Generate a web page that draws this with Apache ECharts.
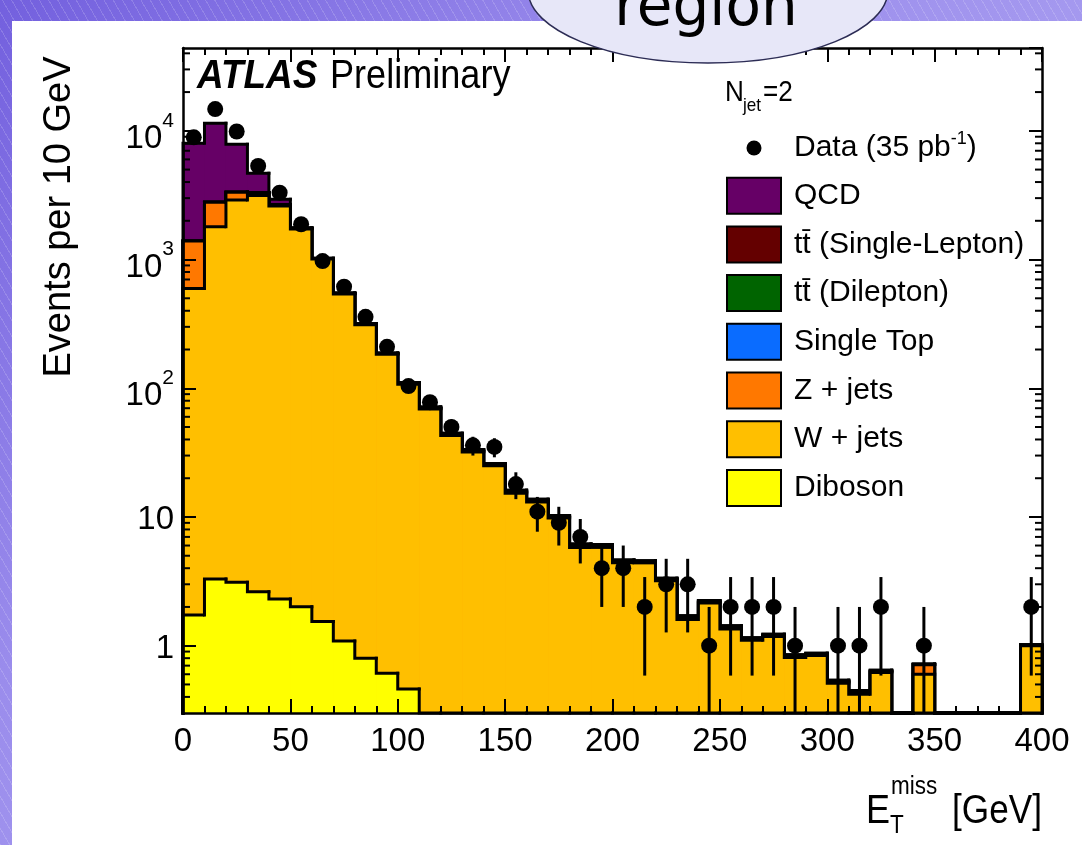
<!DOCTYPE html>
<html>
<head>
<meta charset="utf-8">
<script src="https://cdn.jsdelivr.net/npm/echarts@6/dist/echarts.min.js"></script>
<style>
html, body { margin: 0; padding: 0; }
body {
  width: 1082px; height: 845px; overflow: hidden;
  background:
    repeating-linear-gradient(60deg, rgba(255,255,255,0.16) 0px, rgba(255,255,255,0.16) 1px, rgba(255,255,255,0) 1px, rgba(255,255,255,0) 8px),
    linear-gradient(135deg, #7360de 0%, #9a8cec 35%, #b9b2f5 100%);
}
#chart { width: 1082px; height: 845px; }
</style>
</head>
<body>
<div id="chart"></div>
<script>
// E_T^miss bins (GeV), 10 GeV wide
const binEdges = [0,10,20,30,40,50,60,70,80,90,100,110,120,130,140,150,160,170,180,190,200,
  210,220,230,240,250,260,270,280,290,300,310,320,330,340,350,360,370,380,390,400];

// observed events per bin
const dataCounts = [8900,14750,9880,5340,3310,1880,973,615,359,210,104,78,50,36,35,18,11,9,7,4,
  4,2,3,3,1,2,2,2,1,0,1,1,2,0,1,0,0,0,0,2];

// MC backgrounds (stacked from bottom to top)
const diboson = [1.73,3.30,3.11,2.63,2.31,2.01,1.54,1.09,0.80,0.61,0.46,0,0,0,0,0,0,0,0,0,
  0,0,0,0,0,0,0,0,0,0,0,0,0,0,0,0,0,0,0,0];
const wJets = [595,1797,2897,3137,2598,1728,1008,539,311,183,107,69,43,32,25,15.3,13.1,9.8,5.8,5.8,
  4.4,4.4,3.2,1.6,2.15,1.35,1.1,1.18,0.81,0.84,0.51,0.42,0.62,0,0.60,0,0,0,0,1.0];
const zJets = [796,990,435,170,60,20,8,4,2.2,1.3,0.8,0.5,0.35,0.25,0.2,0.15,0.1,0.08,0.06,0.05,
  0.04,0.03,0.03,0.02,0.02,0.02,0.01,0.01,0.01,0.01,0.01,0.01,0.01,0,0.11,0,0,0,0,0.01];
const singleTop = [0.6,1.3,1.8,2.0,2.0,1.8,1.5,1.2,0.95,0.75,0.58,0.45,0.35,0.27,0.21,0.16,0.12,0.1,0.08,0.06,
  0.05,0.04,0.03,0.02,0.02,0.015,0.012,0.01,0.008,0.006,0.005,0.004,0.004,0,0.003,0,0,0,0,0.002];
const ttDilep = [0.2,0.4,0.6,0.8,0.9,0.9,0.8,0.7,0.6,0.5,0.4,0.32,0.26,0.2,0.16,0.13,0.1,0.08,0.06,0.05,
  0.04,0.03,0.025,0.02,0.015,0.012,0.01,0.008,0.006,0.005,0.004,0.004,0.003,0,0.002,0,0,0,0,0.002];
const ttSingle = [1.2,2.6,3.8,4.4,4.6,4.2,3.6,3.0,2.4,1.9,1.5,1.1,0.85,0.65,0.5,0.38,0.3,0.23,0.18,0.14,
  0.11,0.08,0.06,0.05,0.04,0.03,0.02,0.02,0.015,0.012,0.01,0.01,0.008,0,0.006,0,0,0,0,0.004];
const qcd = [6600,8680,4540,1370,270,0,0,0,0,0,0,0,0,0,0,0,0,0,0,0,
  0,0,0,0,0,0,0,0,0,0,0,0,0,0,0,0,0,0,0,0];

const layers = [
  { name: 'Diboson', values: diboson, color: '#FFFF00' },
  { name: 'W + jets', values: wJets, color: '#FFBF00' },
  { name: 'Z + jets', values: zJets, color: '#FF7800' },
  { name: 'Single Top', values: singleTop, color: '#0A6CFF' },
  { name: 't\u0074\u0304 (Dilepton)', values: ttDilep, color: '#006400' },
  { name: 't\u0074\u0304 (Single-Lepton)', values: ttSingle, color: '#640000' },
  { name: 'QCD', values: qcd, color: '#660066' }
];

const yMin = 0.3, yMax = 44000;
const font = '"Liberation Sans", Arial, Helvetica, sans-serif';

// cumulative sums for the stack
const cum = [];
let run = dataCounts.map(() => 0);
layers.forEach(l => { run = run.map((v, i) => v + l.values[i]); cum.push(run); });

// one histogram layer: filled bin + black step outline (ROOT style)
function stepRender(c, color) {
  return function (params, api) {
    const i = params.dataIndex;
    const top = Math.max(c[i], yMin);
    const prev = i > 0 ? Math.max(c[i - 1], yMin) : yMin;
    const p0 = api.coord([binEdges[i], top]);
    const p1 = api.coord([binEdges[i + 1], top]);
    const yPrev = api.coord([binEdges[i], prev])[1];
    const yBot = api.coord([binEdges[i], yMin])[1];
    const children = [];
    if (c[i] > yMin) {
      children.push({ type: 'rect', shape: { x: p0[0], y: p0[1], width: p1[0] - p0[0] + 0.6, height: yBot - p0[1] },
        style: { fill: color } });
    }
    const pts = [[p0[0], yPrev], [p0[0], p0[1]], [p1[0], p0[1]]];
    if (i === c.length - 1) pts.push([p1[0], yBot]);
    children.push({ type: 'polyline', shape: { points: pts },
      style: { stroke: '#000', lineWidth: 3, fill: null, lineCap: 'square', lineJoin: 'miter' } });
    return { type: 'group', children: children };
  };
}

const stackSeries = layers.map((l, k) => ({
  name: l.name,
  type: 'custom',
  z: 2 + (layers.length - k),
  silent: true,
  itemStyle: { color: l.color },
  data: cum[k].map((v, i) => [binEdges[i], v]),
  renderItem: stepRender(cum[k], l.color)
})).reverse();

const binCenters = dataCounts.map((n, i) => (binEdges[i] + binEdges[i + 1]) / 2);

const errSeries = {
  name: 'dataErr',
  type: 'custom',
  z: 10,
  silent: true,
  data: dataCounts.map((n, i) => [binCenters[i], n]),
  renderItem(params, api) {
    const x = api.value(0), n = api.value(1);
    if (!(n > 0)) return null;
    const e = Math.sqrt(n);
    const lo = api.coord([x, Math.max(n - e, yMin)]);
    const hi = api.coord([x, n + e]);
    return { type: 'line', shape: { x1: lo[0], y1: lo[1], x2: hi[0], y2: hi[1] },
      style: { stroke: '#000', lineWidth: 3 } };
  }
};

const dataSeries = {
  name: 'Data',
  type: 'scatter',
  z: 11,
  symbol: 'circle',
  symbolSize: 16,
  itemStyle: { color: '#000', opacity: 1 },
  data: dataCounts.map((n, i) => [binCenters[i], n]).filter(p => p[1] > 0)
};

// log minor ticks (2..9 x 10^k) on left and right frame
const yMinorTicks = [];
for (let d = -1; d <= 4; d++) {
  for (let m = 2; m <= 9; m++) {
    const v = m * Math.pow(10, d);
    if (v > yMin * 1.001 && v < yMax) yMinorTicks.push(v);
  }
}
const minorTickSeries = {
  name: 'minorTicks',
  type: 'custom',
  z: 21,
  silent: true,
  data: yMinorTicks.map(v => [0, v]),
  renderItem(params, api) {
    const v = api.value(1);
    const l = api.coord([0, v]);
    const r = api.coord([400, v]);
    const st = { stroke: '#000', lineWidth: 2 };
    return { type: 'group', children: [
      { type: 'line', shape: { x1: l[0], y1: l[1], x2: l[0] + 7, y2: l[1] }, style: st },
      { type: 'line', shape: { x1: r[0] - 7, y1: r[1], x2: r[0], y2: r[1] }, style: st }
    ] };
  }
};

const axisLine = { show: true, onZero: false, lineStyle: { color: '#000', width: 2.5 } };
const xBase = {
  type: 'value', min: 0, max: 400, interval: 50, z: 20,
  axisLine: axisLine,
  axisTick: { show: true, inside: true, length: 14, lineStyle: { color: '#000', width: 2 } },
  minorTick: { show: true, splitNumber: 5, length: 7, lineStyle: { color: '#000', width: 2 } },
  splitLine: { show: false }
};
const yBase = {
  type: 'log', logBase: 10, min: yMin, max: yMax, z: 20,
  axisLine: axisLine,
  axisTick: { show: true, inside: true, length: 13, lineStyle: { color: '#000', width: 2 } },
  splitLine: { show: false }
};

const dotIcon = 'path://M0,0 M54,36 M34.5,18 A7.5,7.5 0 1 1 19.5,18 A7.5,7.5 0 1 1 34.5,18 Z';

const chart = echarts.init(document.getElementById('chart'), null, { renderer: 'canvas' });
chart.setOption({
  backgroundColor: 'transparent',
  animation: false,
  grid: { left: 183, top: 48, right: 40, bottom: 132 },
  xAxis: [
    Object.assign({}, xBase, { position: 'bottom',
      axisLabel: { color: '#000', fontFamily: font, fontSize: 33, margin: 12 } }),
    Object.assign({}, xBase, { position: 'top', axisLabel: { show: false } })
  ],
  yAxis: [
    Object.assign({}, yBase, { position: 'left',
      axisLabel: {
        color: '#000', fontFamily: font, fontSize: 33, margin: 9,
        showMinLabel: false, showMaxLabel: false,
        formatter: v => {
          const e = Math.round(Math.log10(v));
          if (e === 0) return '{p|1}';
          if (e === 1) return '{p|10}';
          return '{b|10}{s|' + e + '}';
        },
        rich: {
          p: { fontFamily: font, fontSize: 33, lineHeight: 33, padding: [6, 0, 0, 0], color: '#000' },
          b: { fontFamily: font, fontSize: 33, lineHeight: 33, padding: [16, 0, 0, 0], color: '#000' },
          s: { fontFamily: font, fontSize: 21, lineHeight: 21, padding: [0, 0, 20, 0], color: '#000' }
        }
      } }),
    Object.assign({}, yBase, { position: 'right', axisLabel: { show: false } })
  ],
  legend: {
    orient: 'vertical', left: 726, top: 130, padding: 0,
    itemWidth: 54, itemHeight: 36, itemGap: 10.7,
    selectedMode: false,
    textStyle: {
      fontFamily: font, fontSize: 30, lineHeight: 36, color: '#000', padding: [0, 0, 0, 8],
      rich: { sup: { fontFamily: font, fontSize: 18, lineHeight: 18, verticalAlign: 'top', color: '#000' } }
    },
    formatter: n => n === 'Data' ? 'Data (35 pb{sup|-1})' : n,
    data: [{ name: 'Data', icon: dotIcon, itemStyle: { color: '#000', borderWidth: 0 } }].concat(
      layers.slice().reverse().map(l => ({ name: l.name, icon: 'rect',
        itemStyle: { color: l.color, borderColor: '#000', borderWidth: 2 } })))
  },
  graphic: [
    { type: 'rect', z: -10, shape: { x: 12, y: 21, width: 1070, height: 824 }, style: { fill: '#fff' } },
    { type: 'text', z: 30, x: 197, y: 77, scaleX: 0.9,
      style: { text: 'ATLAS', fontFamily: font, fontSize: 41, fontWeight: 'bold', fontStyle: 'italic', fill: '#000', verticalAlign: 'middle' } },
    { type: 'text', z: 30, x: 330, y: 77, scaleX: 0.88,
      style: { text: 'Preliminary', fontFamily: font, fontSize: 41, fill: '#000', verticalAlign: 'middle' } },
    { type: 'text', z: 30, x: 725, y: 93, scaleX: 0.9,
      style: { text: 'N', fontFamily: font, fontSize: 29, fill: '#000', verticalAlign: 'middle' } },
    { type: 'text', z: 30, x: 743, y: 106, scaleX: 0.9,
      style: { text: 'jet', fontFamily: font, fontSize: 19, fill: '#000', verticalAlign: 'middle' } },
    { type: 'text', z: 30, x: 763, y: 93, scaleX: 0.9,
      style: { text: '=2', fontFamily: font, fontSize: 29, fill: '#000', verticalAlign: 'middle' } },
    { type: 'text', z: 30, x: 60, y: 217, rotation: Math.PI / 2,
      style: { text: 'Events per 10 GeV', fontFamily: font, fontSize: 38, fill: '#000', align: 'center', verticalAlign: 'middle' } },
    { type: 'text', z: 30, x: 866, y: 812, scaleX: 0.9,
      style: { text: 'E', fontFamily: font, fontSize: 40, fill: '#000', verticalAlign: 'middle' } },
    { type: 'text', z: 30, x: 891, y: 787, scaleX: 0.9,
      style: { text: 'miss', fontFamily: font, fontSize: 25, fill: '#000', verticalAlign: 'middle' } },
    { type: 'text', z: 30, x: 890, y: 826, scaleX: 0.9,
      style: { text: 'T', fontFamily: font, fontSize: 25, fill: '#000', verticalAlign: 'middle' } },
    { type: 'text', z: 30, x: 1042, y: 812, scaleX: 0.88,
      style: { text: '[GeV]', fontFamily: font, fontSize: 40, fill: '#000', align: 'right', verticalAlign: 'middle' } },
    { type: 'ellipse', z: 40, shape: { cx: 708, cy: -10, rx: 180, ry: 73 },
      style: { fill: '#E7E7F8', stroke: '#2C2C55', lineWidth: 1.5 } },
    { type: 'text', z: 41, x: 706, y: 10,
      style: { text: 'region', fontFamily: '"DejaVu Sans", sans-serif', fontSize: 58, fill: '#000', align: 'center', verticalAlign: 'middle' } }
  ],
  series: stackSeries.concat([errSeries, dataSeries, minorTickSeries])
});
</script>
</body>
</html>
